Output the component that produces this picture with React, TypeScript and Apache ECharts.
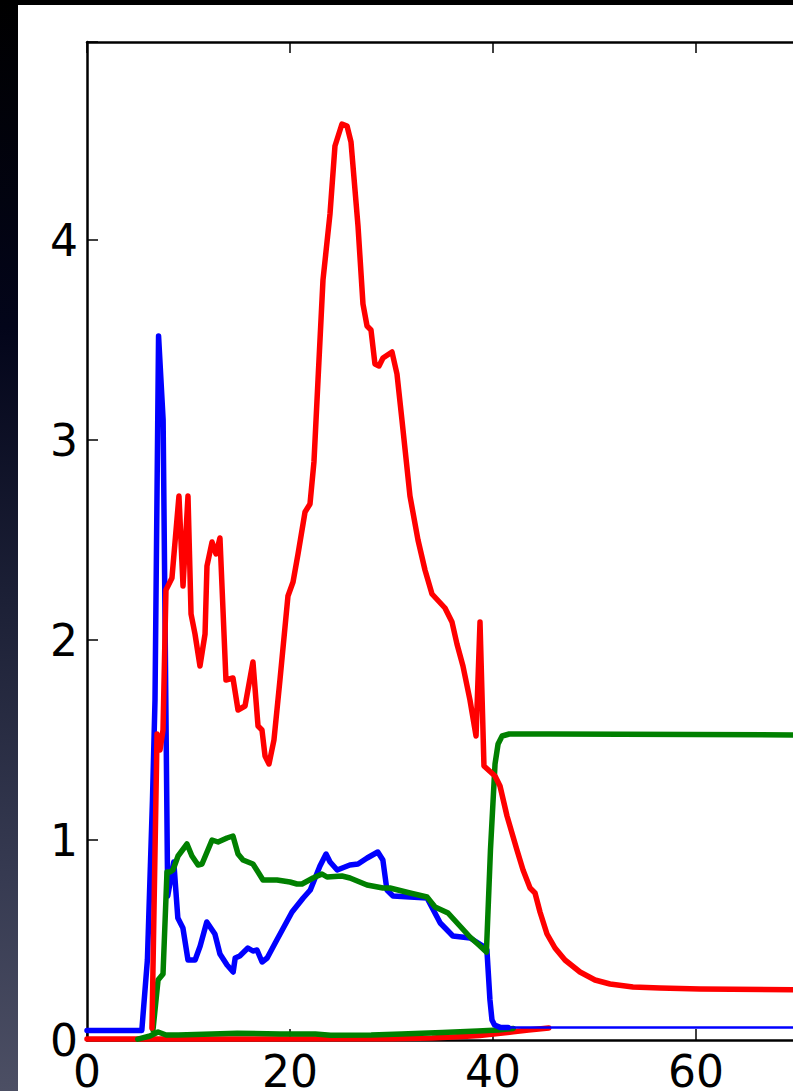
import React, { useEffect, useRef } from "react";
import * as echarts from "echarts";

// x ticks / y ticks
const xTicks = [0, 20, 40, 60, 80];
const yTicks = [0, 1, 2, 3, 4];

// Thick blue curve [x, y]
const blueThick: [number, number][] = [
  [0, 0.048], [5.4, 0.048], [5.95, 0.4], [6.45, 1.2], [6.7, 1.7], [7.05, 3.52],
  [7.5, 3.1], [7.95, 0.72], [8.55, 0.89], [8.95, 0.61], [9.45, 0.56], [9.95, 0.4],
  [10.65, 0.4], [11.15, 0.47], [11.8, 0.59], [12.6, 0.53], [13.1, 0.43], [13.8, 0.375],
  [14.4, 0.34], [14.6, 0.41], [15.05, 0.42], [15.85, 0.46], [16.35, 0.445], [16.75, 0.45],
  [17.25, 0.39], [17.75, 0.41], [18.7, 0.5], [20.2, 0.64], [21.3, 0.71], [22.0, 0.75],
  [22.95, 0.87], [23.55, 0.93], [23.95, 0.89], [24.65, 0.85], [25.9, 0.875], [26.7, 0.88],
  [27.6, 0.91], [28.65, 0.94], [29.15, 0.9], [29.55, 0.75], [30.15, 0.72], [33.5, 0.71],
  [34.8, 0.585], [36.05, 0.52], [37.75, 0.51], [39.0, 0.47], [39.4, 0.45], [39.7, 0.2],
  [39.9, 0.1], [40.15, 0.075], [40.7, 0.063], [41.5, 0.062],
];

// Thin blue tail
const blueThin: [number, number][] = [
  [41.0, 0.062], [50, 0.062], [60, 0.062], [72, 0.062],
];

// Thick red curve
const redThick: [number, number][] = [
  [6.4, 0.06], [6.9, 1.53], [7.19, 1.45], [7.49, 1.55], [7.78, 2.25], [8.37, 2.31],
  [9.06, 2.72], [9.46, 2.27], [9.95, 2.72], [10.25, 2.13], [10.64, 2.03], [11.13, 1.87],
  [11.63, 2.03], [11.82, 2.37], [12.32, 2.49], [12.71, 2.43], [13.1, 2.51], [13.69, 1.8],
  [14.38, 1.81], [14.88, 1.65], [15.57, 1.67], [16.35, 1.89], [16.85, 1.57], [17.24, 1.55],
  [17.54, 1.42], [17.93, 1.38], [18.42, 1.5], [19.01, 1.8], [19.8, 2.22], [20.3, 2.29],
  [20.79, 2.43], [21.48, 2.64], [21.97, 2.68], [22.36, 2.89], [22.76, 3.3], [23.25, 3.8],
  [23.94, 4.13], [24.43, 4.47], [25.12, 4.58], [25.62, 4.57], [26.01, 4.49], [26.7, 4.07],
  [27.19, 3.68], [27.59, 3.57], [27.98, 3.55], [28.37, 3.38], [28.77, 3.37], [29.16, 3.41],
  [30.05, 3.44], [30.54, 3.33], [31.03, 3.1], [31.82, 2.72], [32.61, 2.5], [33.3, 2.35],
  [33.99, 2.23], [35.27, 2.16], [35.96, 2.09], [36.45, 1.98], [37.04, 1.87], [37.73, 1.7],
  [38.33, 1.52], [38.72, 2.09], [39.11, 1.37], [40.2, 1.32], [40.69, 1.27], [41.38, 1.12],
  [42.36, 0.95], [42.96, 0.85], [43.65, 0.76], [44.14, 0.735], [44.63, 0.64], [45.32, 0.53],
  [46.11, 0.46], [47.09, 0.4], [48.57, 0.34], [50.05, 0.3], [51.53, 0.28], [53.79, 0.265],
  [56.45, 0.26], [60.39, 0.255], [72, 0.25],
];

// Low red curve near zero
const redLow: [number, number][] = [
  [0, 0.005], [30, 0.006], [34, 0.01], [37, 0.017], [38.7, 0.023], [40.5, 0.032],
  [42, 0.041], [43.5, 0.05], [45.5, 0.06],
];

// Thick green curve
const greenThick: [number, number][] = [
  [6.5, 0.05], [7.0, 0.3], [7.49, 0.33], [7.88, 0.84], [8.18, 0.84], [8.47, 0.85],
  [8.97, 0.92], [9.85, 0.98], [10.34, 0.92], [10.94, 0.875], [11.33, 0.88], [12.32, 1.0],
  [12.91, 0.99], [13.79, 1.01], [14.38, 1.02], [14.88, 0.93], [15.37, 0.9], [16.35, 0.88],
  [16.85, 0.84], [17.34, 0.8], [18.72, 0.8], [20.0, 0.79], [20.69, 0.78], [21.18, 0.78],
  [22.27, 0.81], [23.15, 0.83], [23.65, 0.815], [25.12, 0.82], [25.91, 0.81], [27.59, 0.775],
  [29.16, 0.76], [29.85, 0.76], [31.82, 0.735], [33.5, 0.715], [34.29, 0.665], [35.57, 0.635],
  [37.73, 0.515], [38.72, 0.47], [39.35, 0.44], [39.75, 0.95], [40.2, 1.38], [40.5, 1.48],
  [40.9, 1.52], [41.6, 1.53], [45.62, 1.53], [72, 1.525],
];

// Low green curve near zero
const greenLow: [number, number][] = [
  [5.0, 0.004], [6.2, 0.02], [7.0, 0.04], [7.8, 0.025], [9.0, 0.025], [14.8, 0.034],
  [19.0, 0.03], [22.5, 0.03], [24.0, 0.024], [28.0, 0.025], [31.0, 0.03], [35.0, 0.037],
  [38.5, 0.045], [40.5, 0.05], [42.0, 0.058],
];

const BLUE = "#0000ff";
const RED = "#ff0000";
const GREEN = "#008000";

function lineSeries(data: [number, number][], color: string, width: number) {
  return {
    type: "line",
    data,
    showSymbol: false,
    symbol: "none",
    clip: true,
    lineStyle: { color, width, cap: "round", join: "round" },
    xAxisIndex: 0,
    yAxisIndex: 0,
  };
}

const CHART_W = 900;
const CHART_H = 1086;
const GRID_LEFT = 69;
const GRID_TOP = 37;
const GRID_W = 812;
const GRID_H = 998;

export default function App() {
  const ref = useRef<HTMLDivElement>(null);
  useEffect(() => {
    if (!ref.current) return;
    const chart = echarts.init(ref.current, undefined, { renderer: "svg" });
    const axisLine = { show: true, lineStyle: { color: "#000", width: 2.5 } };
    const axisTick = { show: true, inside: true, length: 11, lineStyle: { color: "#000", width: 1.5 } };
    chart.setOption({
      animation: false,
      backgroundColor: "#ffffff",
      grid: {
        left: GRID_LEFT,
        top: GRID_TOP,
        width: GRID_W,
        height: GRID_H,
        containLabel: false,
        outerBoundsMode: "none",
      },
      xAxis: [
        {
          type: "value",
          min: xTicks[0],
          max: xTicks[xTicks.length - 1],
          interval: 20,
          position: "bottom",
          axisLine,
          axisTick,
          splitLine: { show: false },
          axisLabel: {
            color: "#000",
            fontSize: 44,
            fontFamily: "DejaVu Sans",
            margin: 9,
            formatter: (v: number) => (xTicks.includes(v) ? String(v) : ""),
          },
        },
        {
          type: "value",
          min: xTicks[0],
          max: xTicks[xTicks.length - 1],
          interval: 20,
          position: "top",
          axisLine,
          axisTick,
          splitLine: { show: false },
          axisLabel: { show: false },
        },
      ],
      yAxis: [
        {
          type: "value",
          min: 0,
          max: 4.99,
          interval: 1,
          axisLine,
          axisTick,
          splitLine: { show: false },
          axisLabel: {
            color: "#000",
            fontSize: 44,
            fontFamily: "DejaVu Sans",
            margin: 9,
            formatter: (v: number) => (yTicks.includes(v) ? String(v) : ""),
          },
        },
      ],
      series: [
        lineSeries(redLow, RED, 5.5),
        lineSeries(greenLow, GREEN, 5.5),
        lineSeries(blueThin, BLUE, 2.5),
        lineSeries(blueThick, BLUE, 5.5),
        lineSeries(greenThick, GREEN, 5.5),
        lineSeries(redThick, RED, 5.5),
      ],
    });
    return () => chart.dispose();
  }, []);

  return (
    <div
      style={{
        position: "fixed",
        left: 0,
        top: 0,
        width: 793,
        height: 1091,
        overflow: "hidden",
        background:
          "linear-gradient(to bottom, #000000 0%, #03051a 30%, #1c2036 55%, #363a51 80%, #4c4f64 100%)",
      }}
    >
      <div
        ref={ref}
        style={{ position: "absolute", left: 18, top: 5, width: CHART_W, height: CHART_H }}
      />
    </div>
  );
}
